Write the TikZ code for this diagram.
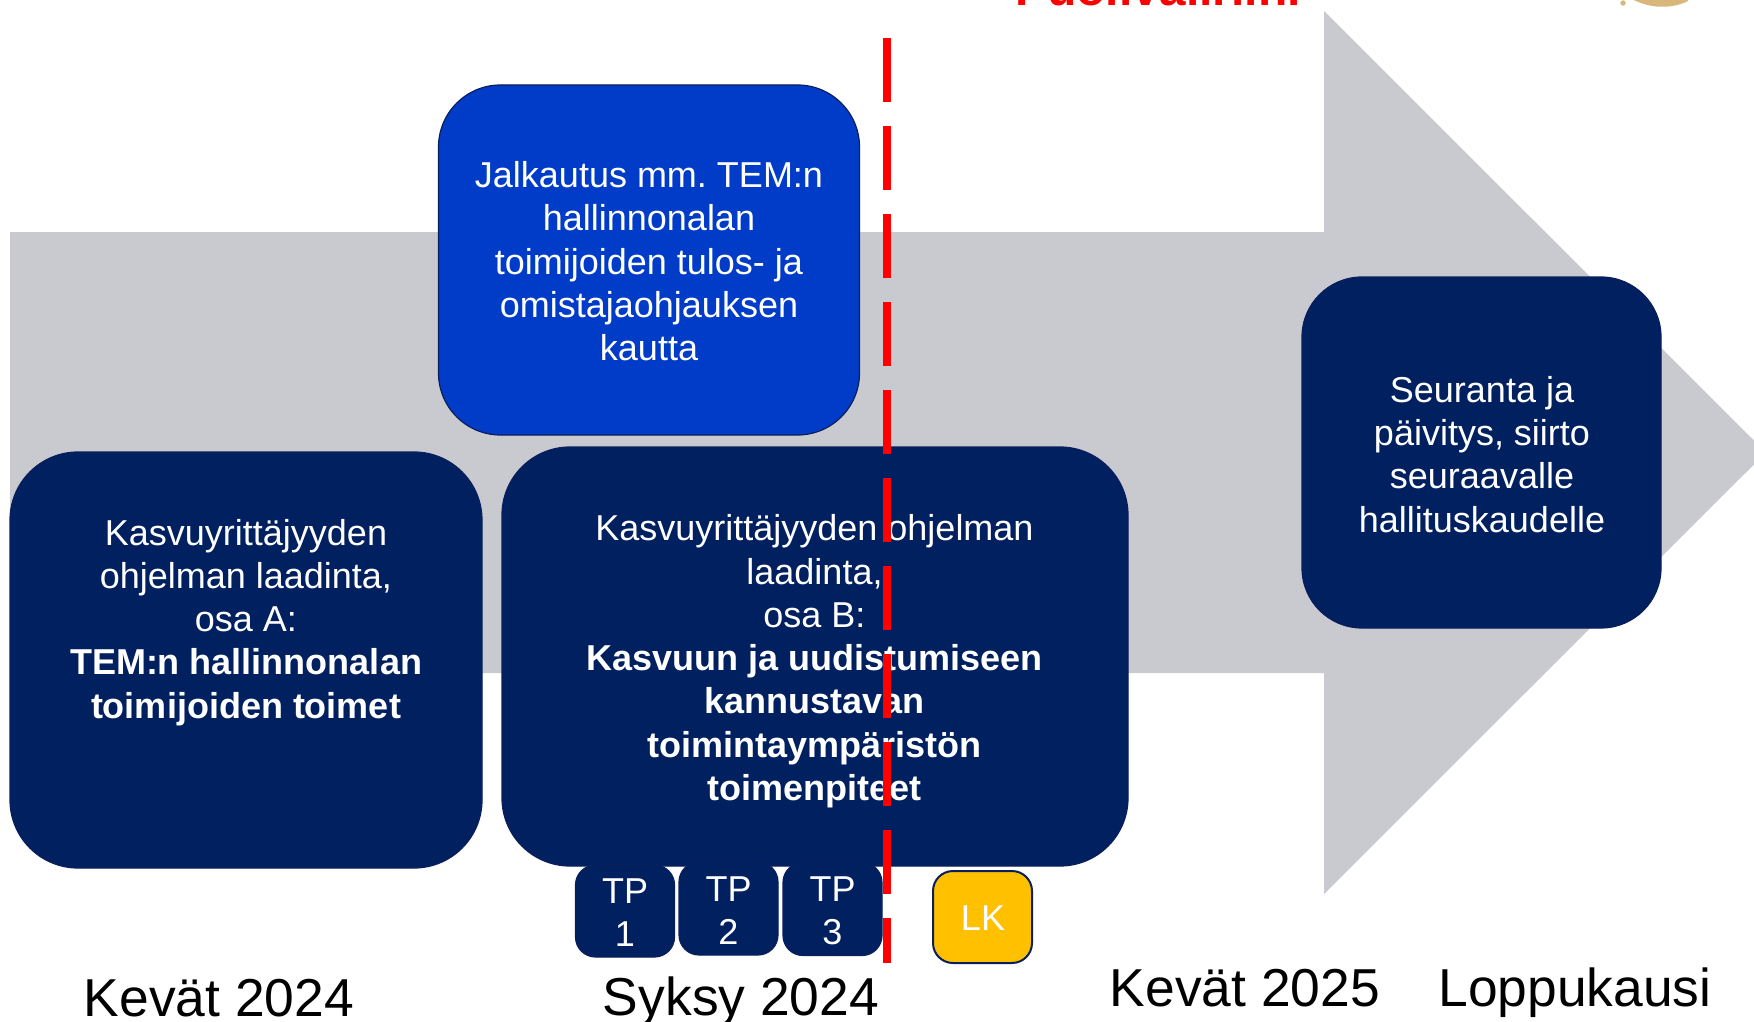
\documentclass[tikz,border=0pt]{standalone}
\usepackage{fontspec}
\setmainfont{Liberation Sans}
\definecolor{navy}{HTML}{002060}
\definecolor{edgenavy}{HTML}{0A1F5C}
\definecolor{midblue}{HTML}{003CC8}
\definecolor{shaft}{HTML}{C9CAD0}
\definecolor{amber}{HTML}{FFC000}
\definecolor{sand}{HTML}{D8B67C}
\tikzset{
  bigbox/.style={draw=edgenavy,line width=1.2pt,fill=navy,rounded corners=68pt,inner sep=0pt,outer sep=0pt},
  bluebox/.style={bigbox,fill=midblue,rounded corners=62pt},
  smallbox/.style={draw=edgenavy,line width=1.2pt,fill=navy,rounded corners=20pt,inner sep=0pt,outer sep=0pt,minimum width=99pt,minimum height=93pt},
  amberbox/.style={smallbox,fill=amber,line width=2pt},
  boxtext/.style={text=white,align=center,inner sep=0pt,font=\fontsize{36}{43.3}\selectfont\frenchspacing},
  period/.style={text=black,inner sep=0pt,anchor=base,font=\fontsize{53.4}{60}\selectfont},
  midline/.style={draw=red,line width=8pt,dash pattern=on 64pt off 24pt}
}
\begin{document}
\begin{tikzpicture}[x=1pt,y=-1pt]
\useasboundingbox (0,0) rectangle (1754,1022);
\clip (0,0) rectangle (1754,1022);
\fill[white] (0,0) rectangle (1754,1022);
% big arrow
\fill[shaft] (10,232) -- (1324,232) -- (1324,11) -- (1766,452.5) -- (1324,894) -- (1324,673) -- (10,673) -- cycle;
% cropped title and logo remains
\node[text=red,inner sep=0pt,anchor=base,font=\fontsize{48}{52}\selectfont\bfseries] (title) at (1158,6) {Puoliväliriihi};
\fill[sand] (1632,-1) .. controls (1650,9) and (1672,9) .. (1688,1) -- (1688,-1) -- cycle;
\fill[sand] (1623,3) circle (2.7pt);
% boxes
\node[bluebox,minimum width=421pt,minimum height=350pt] (jalk) at (649,260) {};
\node[boxtext] (jalkt) at (649,265.5) {\strut Jalkautus mm. TEM:n\\hallinnonalan\\toimijoiden tulos- ja\\omistajaohjauksen\\kautta\strut};
\node[bigbox,minimum width=472pt,minimum height=416pt] (osaa) at (246,660) {};
\node[boxtext] (osaat) at (246,623) {\strut Kasvuyrittäjyyden\\ohjelman laadinta,\\osa A:\\\textbf{TEM:n hallinnonalan}\\\textbf{toimijoiden toimet}\strut};
\node[bigbox,minimum width=626pt,minimum height=419pt] (osab) at (815,656.5) {};
\node[boxtext] (osabt) at (814.5,662) {\strut Kasvuyrittäjyyden ohjelman\\laadinta,\\osa B:\\\textbf{Kasvuun ja uudistumiseen}\\\textbf{kannustavan}\\\textbf{toimintaympäristön}\\\textbf{toimenpiteet}\strut};
\node[bigbox,rounded corners=60pt,minimum width=359pt,minimum height=351pt] (seur) at (1481.5,452.5) {};
\node[boxtext] (seurt) at (1482,458.5) {\strut Seuranta ja\\päivitys, siirto\\seuraavalle\\hallituskaudelle\strut};
% small boxes
\node[smallbox,minimum height=92pt] (tp1) at (625,911) {};
\node[boxtext] (tp1t) at (625,916.5) {\strut TP\\1\strut};
\node[smallbox] (tp2) at (728.5,908.5) {};
\node[boxtext] (tp2t) at (728.5,914.5) {\strut TP\\2\strut};
\node[smallbox] (tp3) at (832.5,909) {};
\node[boxtext] (tp3t) at (832.5,914.5) {\strut TP\\3\strut};
\node[amberbox,minimum height=92pt] (lk) at (982.5,917) {};
\node[boxtext] (lkt) at (983,918) {LK};
% period labels
\node[period] (k24) at (219,1016) {Kevät 2024};
\node[period] (s24) at (741,1015) {Syksy 2024};
\node[period] (k25) at (1245,1006) {Kevät 2025};
\node[period] (lopp) at (1575,1006) {Loppukausi};
% red dashed line
\coordinate (rtop) at (887,38);
\coordinate (rbot) at (887,963);
\draw[midline] (rtop) -- (rbot);
\end{tikzpicture}
\end{document}
